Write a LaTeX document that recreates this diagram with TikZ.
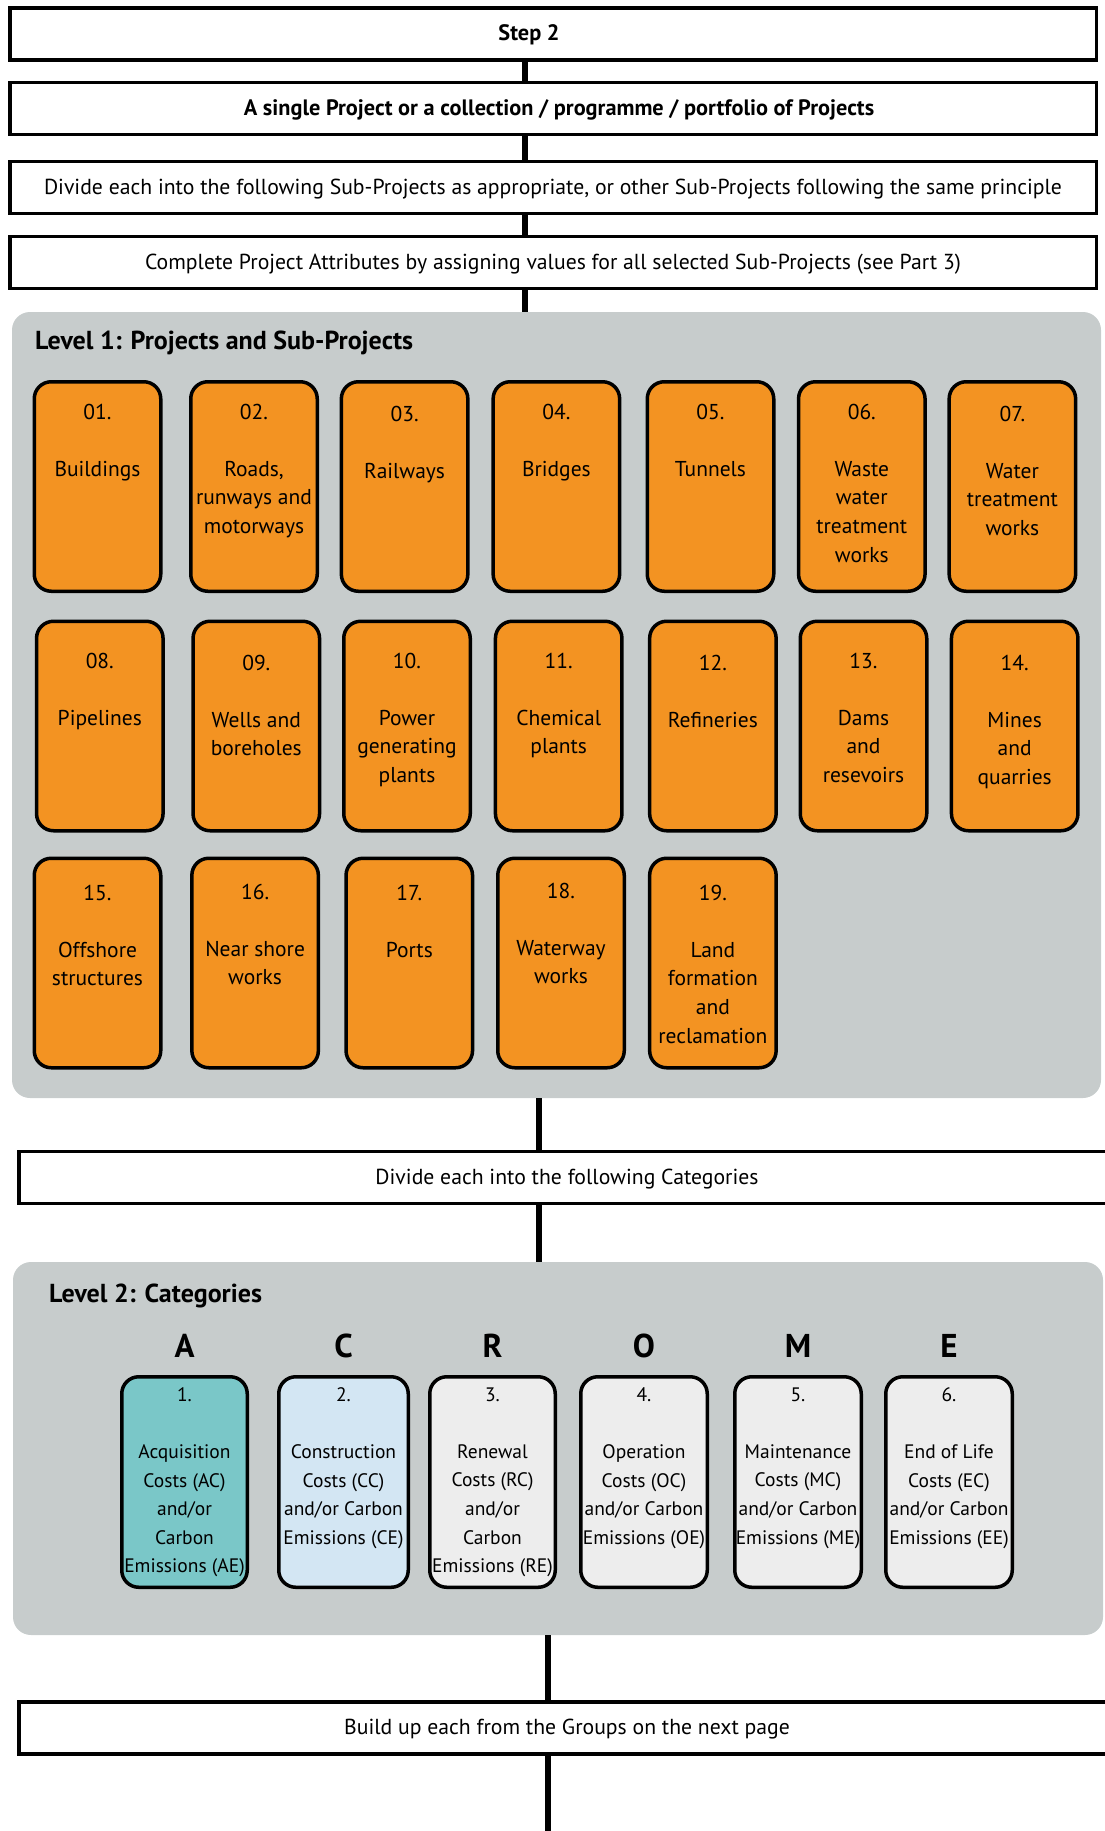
\documentclass[tikz,border=0pt]{standalone}
\usepackage{fontspec}
\setmainfont{PT Sans}
\definecolor{panelgrey}{HTML}{C7CCCC}
\definecolor{projorange}{HTML}{F39322}
\definecolor{acqteal}{HTML}{7AC7C8}
\definecolor{conblue}{HTML}{D3E6F3}
\definecolor{catgrey}{HTML}{EDEDED}
\tikzset{
	stepbox/.style={draw, line width=3.5pt, fill=white, minimum height=52pt, inner sep=0pt, text height=16pt, text depth=2.8pt, font=\fontsize{21.7}{24}\selectfont},
	boldstep/.style={stepbox, font=\fontsize{22.3}{24}\selectfont\bfseries},
	panel/.style={fill=panelgrey, rounded corners=18pt, inner sep=0pt},
	leveltitle/.style={anchor=west, inner sep=0pt, font=\fontsize{26}{30}\selectfont\bfseries},
	projbox/.style={draw, line width=3.5pt, fill=projorange, rounded corners=17pt, minimum width=126.5pt, minimum height=209.5pt, inner sep=0pt},
	projtext/.style={anchor=north, align=center, inner sep=0pt, font=\fontsize{21.5}{28.6}\selectfont},
	catbox/.style={draw, line width=3.5pt, rounded corners=17pt, minimum height=210.5pt, inner sep=0pt},
	cattext/.style={anchor=north, align=center, inner sep=0pt, font=\fontsize{19.5}{28.6}\selectfont},
	catletter/.style={inner sep=0pt, font=\fontsize{33}{36}\selectfont\bfseries},
	link/.style={line width=6pt}
}
\begin{document}
\begin{tikzpicture}[x=1pt,y=-1pt]
	\clip (0,0) rectangle (1105,1831);
	\coordinate (spineA) at (525,0);
	\coordinate (spineB) at (539,0);
	\coordinate (spineC) at (548,0);
	\coordinate (pageend) at (548,1831);
	% steps at the top
	\node [boldstep, minimum width=1086.5pt] (step) at (553,34) {\hspace*{-48pt}Step 2};
	\node [boldstep, minimum width=1086.5pt] (single) at (553,108.5) {\hspace*{12pt}A single Project or a collection / programme / portfolio of Projects};
	\node [stepbox, minimum width=1086.5pt] (divide) at (553,187.5) {Divide each into the following Sub-Projects as appropriate, or other Sub-Projects following the same principle};
	\node [stepbox, minimum width=1086.5pt] (attrib) at (553,262.5) {Complete Project Attributes by assigning values for all selected Sub-Projects (see Part 3)};
	% level 1
	\node [panel, minimum width=1089pt, minimum height=786pt] (level1) at (556.5,705) {};
	\node [leveltitle] (level1title) at (35,343) {Level 1: Projects and Sub-Projects};
	\foreach \id/\x/\y/\ty/\txt in {
		01/97.5/486.5/411/{Buildings},
		02/254/486.5/411/{Roads,\\runways and\\motorways},
		03/404.6/486.5/413/{Railways},
		04/556.4/486.5/411/{Bridges},
		05/710.5/486.5/411/{Tunnels},
		06/861.8/486.5/411/{Waste\\water\\treatment\\works},
		07/1012.4/486.5/413/{Water\\treatment\\works},
		08/99.8/726/660/{Pipelines},
		09/256.3/726/662/{Wells and\\boreholes},
		10/407/726/660/{Power\\generating\\plants},
		11/558.7/726/660/{Chemical\\plants},
		12/712.9/726/662/{Refineries},
		13/863.5/726/660/{Dams\\and\\resevoirs},
		14/1014.7/726/662/{Mines\\and\\quarries},
		15/97.5/963/892/{Offshore\\structures},
		16/255.1/963/891/{Near shore\\works},
		17/409.3/963/892/{Ports},
		18/561/963/890/{Waterway\\works},
		19/712.9/963/892/{Land\\formation\\and\\reclamation}}
	{
		\node [projbox] (p\id) at (\x,\y) {};
		\node [projtext] (p\id text) at (\x,{\ty-7.5}) {\id.\\[28.6pt]\txt};
	}
	% categories
	\node [stepbox, minimum width=1096pt] (cats) at (567,1177.5) {Divide each into the following Categories};
	\node [panel, minimum width=1090pt, minimum height=373pt] (level2) at (558,1448.5) {};
	\node [leveltitle] (level2title) at (49,1296) {Level 2: Categories};
	\foreach \id/\x/\w/\col/\ltr/\txt in {
		1/184.5/125.5/acqteal/A/{Acquisition\\Costs (AC)\\and/or\\Carbon\\Emissions (AE)},
		2/343.5/129.5/conblue/C/{Construction\\Costs (CC)\\and/or Carbon\\Emissions (CE)},
		3/492.5/125.5/catgrey/R/{Renewal\\Costs (RC)\\and/or\\Carbon\\Emissions (RE)},
		4/644/126.5/catgrey/O/{Operation\\Costs (OC)\\and/or Carbon\\Emissions (OE)},
		5/798/126.5/catgrey/M/{Maintenance\\Costs (MC)\\and/or Carbon\\Emissions (ME)},
		6/949/126.5/catgrey/E/{End of Life\\Costs (EC)\\and/or Carbon\\Emissions (EE)}}
	{
		\node [catletter] (cl\id) at (\x,1346) {\ltr};
		\node [catbox, fill=\col, minimum width=\w pt] (c\id) at (\x,1482) {};
		\node [cattext] (c\id text) at (\x,{1394-6.8}) {\id.\\[28.6pt]\txt};
	}
	\node [stepbox, minimum width=1096pt] (build) at (567,1728) {Build up each from the Groups on the next page};
	% spine
	\draw [link] (step.south -| spineA) -- (single.north -| spineA);
	\draw [link] (single.south -| spineA) -- (divide.north -| spineA);
	\draw [link] (divide.south -| spineA) -- (attrib.north -| spineA);
	\draw [link] (attrib.south -| spineA) -- (level1.north -| spineA);
	\draw [link] (level1.south -| spineB) -- (cats.north -| spineB);
	\draw [link] (cats.south -| spineB) -- (level2.north -| spineB);
	\draw [link] (level2.south -| spineC) -- (build.north -| spineC);
	\draw [link] (build.south -| spineC) -- (pageend);
\end{tikzpicture}
\end{document}
